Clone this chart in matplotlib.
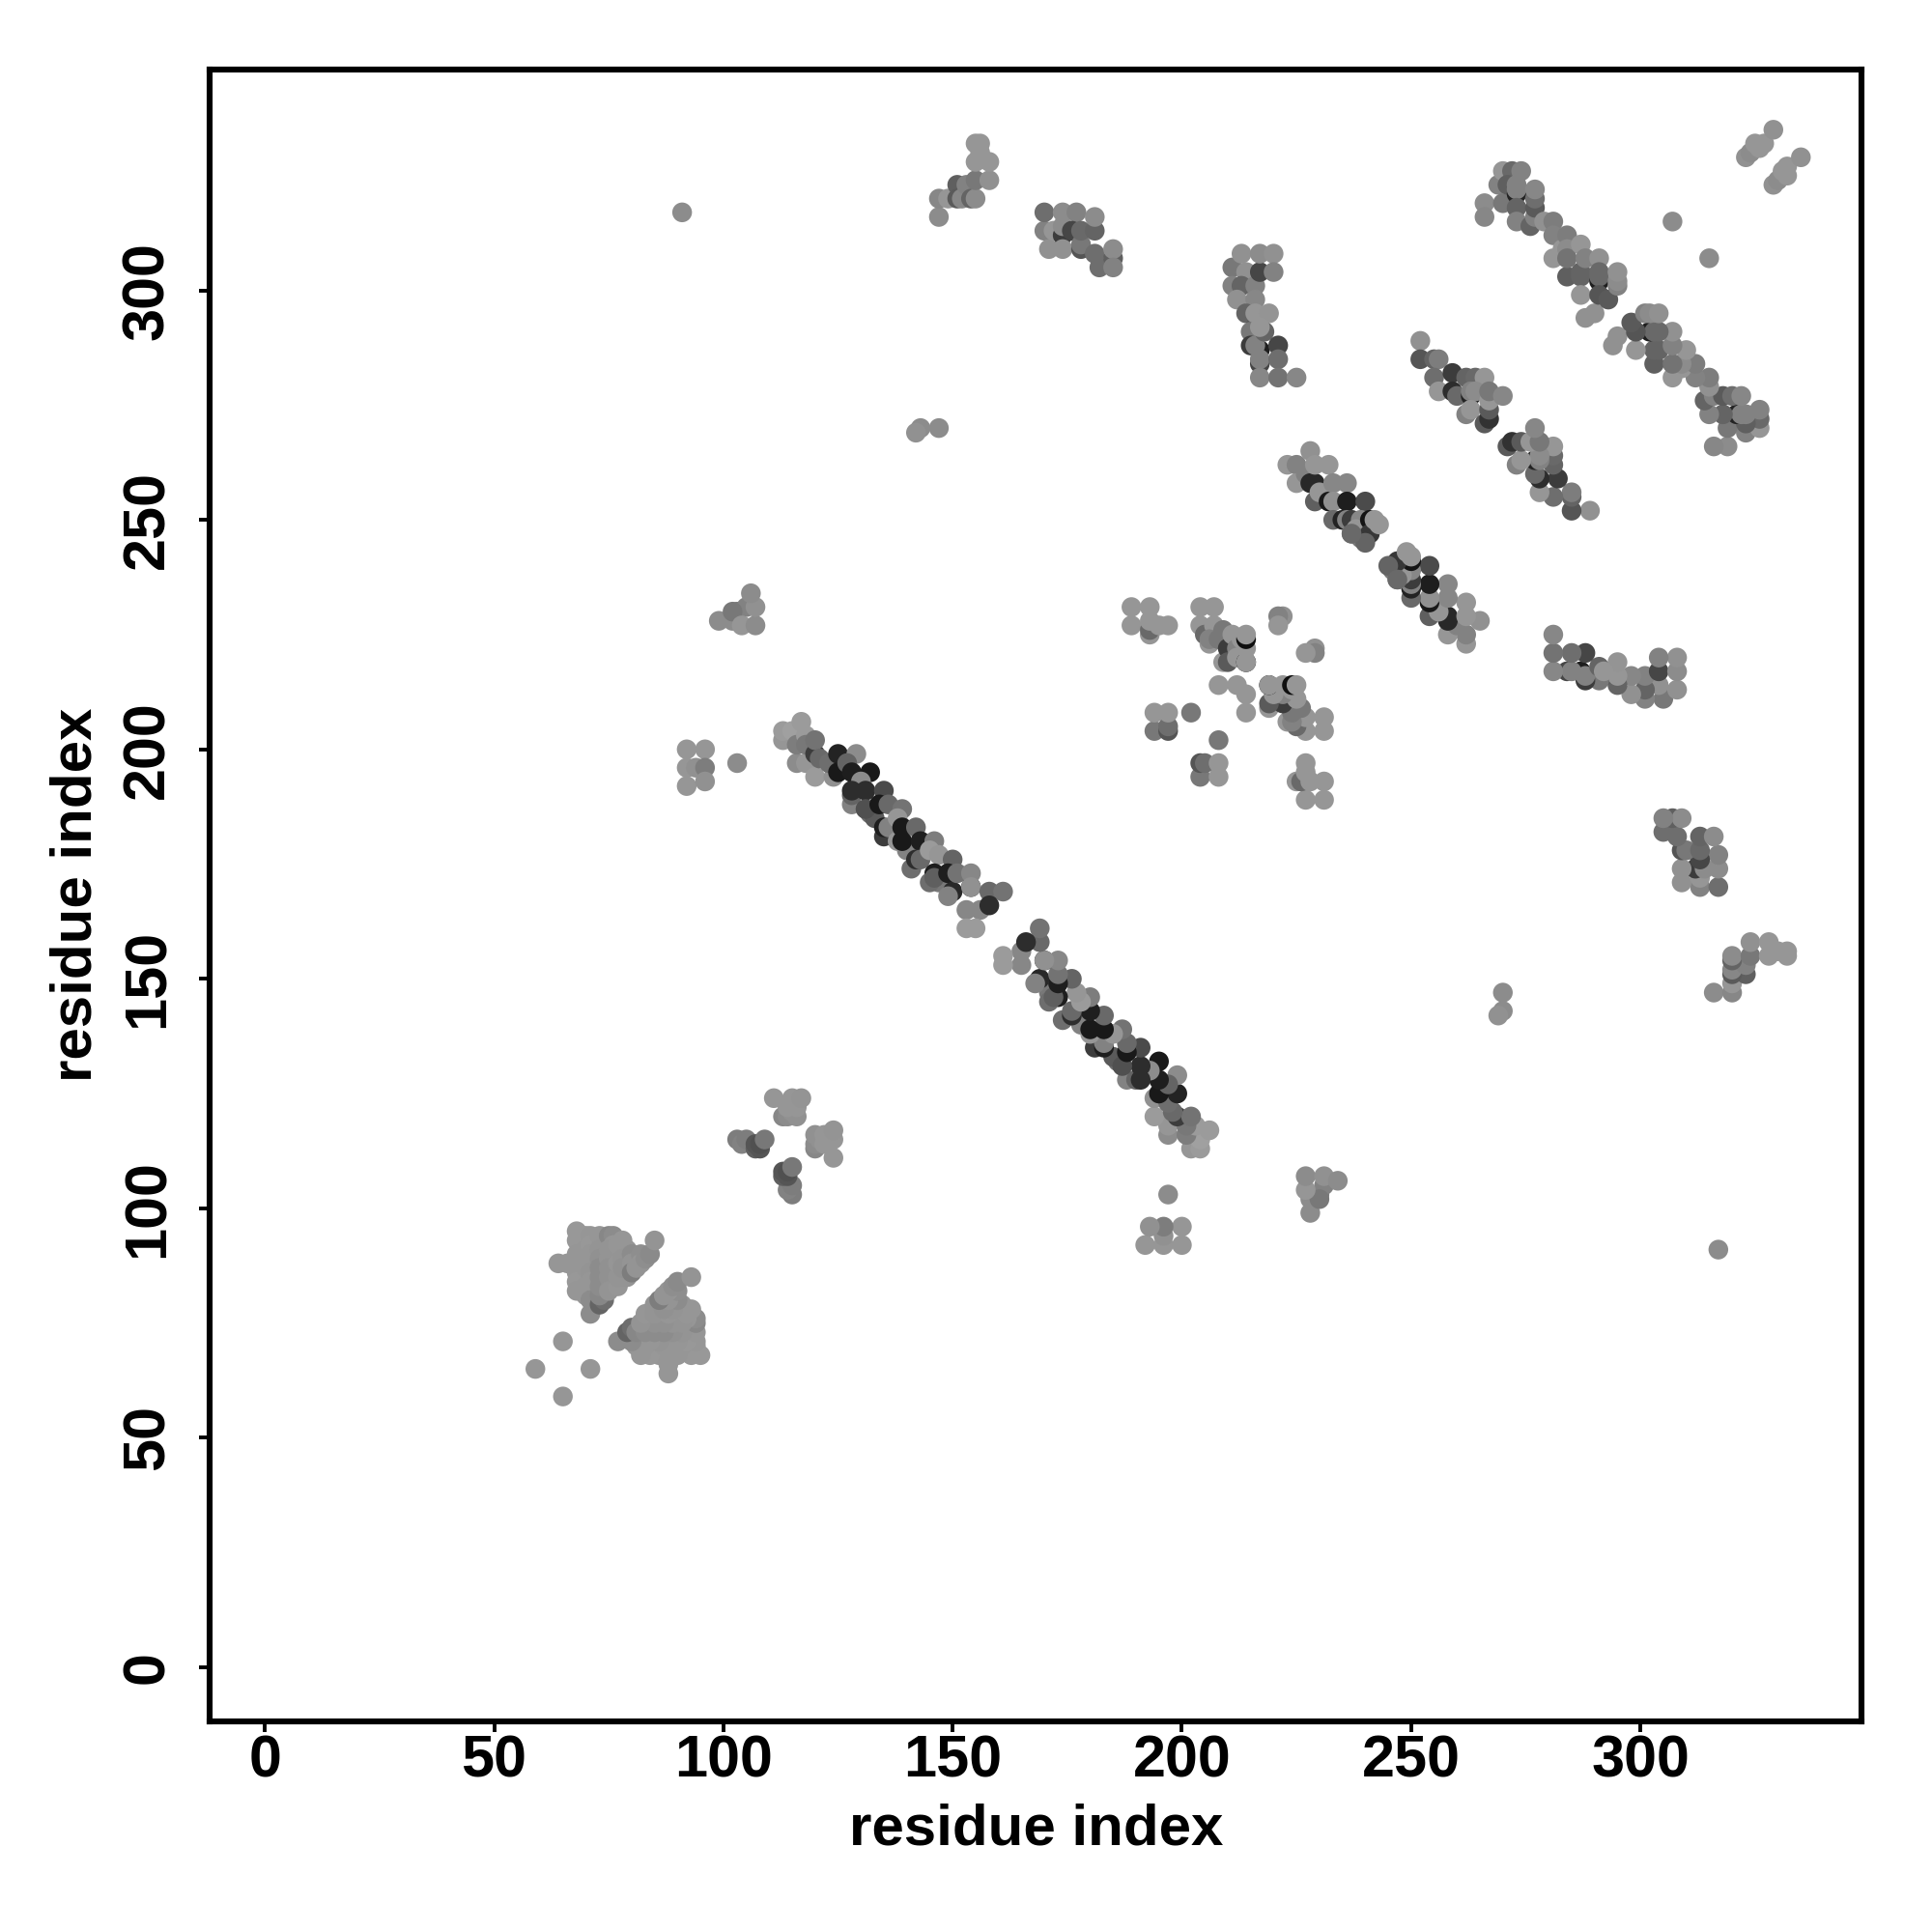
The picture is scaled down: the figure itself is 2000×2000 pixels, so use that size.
#!/usr/bin/env python3
"""Residue contact map, grey level = contact strength. Contacts are listed once as
(i, j, grey) and drawn on both sides of the diagonal, in list order."""
import matplotlib
matplotlib.use("Agg")
import matplotlib.pyplot as plt

TICKS = [0, 50, 100, 150, 200, 250, 300]
LABEL = "residue index"

near_65 = [(65, 71, 150), (59, 65, 150), (64, 88, 150), (66, 88, 150),
           (68, 95, 152), (68, 93, 152), (68, 90, 150), (68, 88, 150), (68, 86, 150), (68, 84, 152), (68, 82, 150),
           (70, 94, 152), (70, 91, 150), (70, 87, 150), (70, 83, 150), (70, 81, 150),
           (71, 94, 150), (71, 92, 152), (71, 90, 150), (71, 88, 150), (71, 86, 148), (71, 84, 150), (71, 82, 150),
           (71, 80, 140), (71, 77, 140), (72, 79, 140), (73, 79, 100), (74, 80, 110), (73, 81, 135),
           (73, 94, 150), (73, 91, 148), (73, 89, 145), (73, 87, 140), (73, 85, 140), (73, 83, 140),
           (75, 94, 135), (76, 94, 140), (76, 92, 150), (76, 90, 150), (76, 88, 145), (76, 86, 140), (76, 84, 148),
           (75, 91, 148), (75, 89, 148), (75, 87, 145), (75, 85, 145), (75, 82, 148), (77, 83, 150), (77, 85, 148),
           (77, 88, 150), (77, 92, 150), (79, 85, 148), (79, 88, 150), (79, 91, 150),
           (78, 93, 150), (78, 91, 150), (78, 89, 148), (78, 87, 145),
           (80, 90, 140), (80, 88, 148), (80, 86, 125), (82, 90, 142), (82, 88, 150), (81, 87, 148), (83, 89, 142),
           (84, 90, 138), (85, 93, 148)]
cross_115 = [(103, 115, 125), (104, 114, 130), (105, 115, 125), (107, 113, 95), (107, 114, 85), (108, 113, 85),
             (108, 114, 80), (109, 115, 120), (113, 120, 135), (114, 120, 140), (115, 121, 145), (116, 120, 145),
             (111, 124, 150), (114, 122, 150), (115, 124, 150), (116, 122, 150), (117, 124, 148)]
band_main = [(113, 202, 150), (113, 204, 155), (115, 204, 160), (117, 206, 155), (116, 197, 140), (118, 197, 150),
             (116, 201, 125), (118, 203, 155), (118, 201, 120), (120, 199, 60), (120, 202, 115), (120, 194, 155),
             (121, 198, 105), (124, 194, 145), (123, 197, 110), (128, 188, 130), (132, 186, 110), (133, 185, 90),
             (135, 181, 60), (140, 178, 130), (147, 171, 120), (141, 174, 110),
             (125, 199, 35), (125, 195, 25), (129, 199, 140), (127, 197, 100), (128, 195, 30), (132, 195, 25),
             (128, 190, 100), (130, 193, 140), (128, 191, 45), (131, 191, 45), (131, 187, 80), (135, 191, 75),
             (134, 188, 25), (136, 188, 105), (139, 187, 115), (135, 183, 30), (136, 183, 130), (138, 185, 150),
             (138, 180, 150), (139, 183, 25), (139, 180, 25), (142, 183, 105), (143, 180, 30), (146, 180, 125),
             (142, 176, 45), (143, 176, 105), (145, 178, 155), (147, 177, 150), (150, 176, 100),
             (146, 173, 30), (145, 171, 110), (146, 172, 95), (149, 173, 30), (150, 169, 40), (151, 173, 115),
             (149, 168, 130), (154, 170, 30), (154, 173, 135), (154, 170, 145), (158, 169, 105), (161, 169, 115),
             (153, 165, 135), (156, 165, 135), (158, 166, 45),
             (153, 161, 155), (155, 161, 155)]
far_92 = [(92, 192, 150), (92, 196, 150), (94, 196, 145), (92, 200, 150), (96, 200, 150), (96, 196, 125),
          (96, 193, 145), (103, 197, 140)]
near_230 = [(99, 228, 140), (102, 228, 140), (103, 230, 125), (105, 231, 130), (102, 230, 120),
            (104, 227, 150), (107, 227, 140), (107, 231, 145), (106, 234, 140)]
singles = [(91, 317, 140), (143, 270, 140), (142, 269, 145), (147, 270, 140), (307, 315, 140)]
near_320 = [(147, 316, 140), (147, 320, 135), (149, 320, 150), (151, 323, 95), (151, 320, 90), (152, 320, 135),
            (153, 323, 130), (154, 320, 100), (155, 320, 140), (155, 324, 120), (158, 324, 145),
            (155, 328, 150), (158, 328, 150), (156, 330, 150), (155, 332, 150), (156, 332, 150)]
far_310 = [(170, 313, 130), (171, 309, 145), (172, 313, 150), (170, 317, 110), (174, 312, 60), (174, 309, 145),
           (174, 314, 140), (174, 317, 140), (177, 317, 130), (176, 313, 70), (178, 309, 85), (178, 310, 120),
           (178, 313, 105), (181, 313, 100), (181, 316, 140), (181, 308, 110), (182, 305, 110), (185, 307, 95),
           (185, 309, 140), (185, 305, 130)]
patch_227 = [(189, 231, 150), (193, 231, 150), (189, 227, 150), (193, 225, 150), (193, 226, 105), (193, 228, 150),
             (195, 227, 150), (197, 227, 150), (194, 204, 120), (194, 208, 150), (197, 204, 85), (197, 205, 110),
             (197, 208, 150), (202, 208, 120), (204, 231, 150), (207, 231, 150), (204, 227, 150), (205, 225, 105),
             (206, 223, 150), (207, 227, 150), (206, 224, 130), (208, 224, 120), (209, 226, 120), (209, 219, 150),
             (210, 222, 60), (210, 219, 90), (211, 225, 150), (212, 222, 130), (212, 220, 150), (213, 224, 150),
             (214, 219, 5), (214, 222, 150), (214, 224, 15), (214, 225, 150), (208, 214, 150), (212, 214, 150),
             (219, 214, 150), (222, 229, 145), (221, 229, 130), (221, 227, 150)]
near_295 = [(211, 305, 120), (211, 301, 130), (213, 308, 145), (214, 304, 145), (213, 301, 100), (212, 298, 145),
            (216, 301, 130), (217, 304, 70), (217, 308, 140), (220, 308, 145), (220, 304, 130), (216, 298, 135),
            (214, 295, 100), (216, 292, 90), (216, 295, 150), (219, 295, 148), (215, 291, 120),
            (215, 288, 60), (217, 287, 30), (216, 288, 130), (218, 291, 100), (217, 292, 150), (221, 288, 70),
            (217, 284, 70), (217, 285, 130), (221, 285, 110), (217, 281, 135), (221, 281, 115), (225, 281, 135)]
band_250 = [(223, 262, 150), (225, 262, 130), (225, 258, 150), (227, 260, 130), (228, 265, 145),
            (228, 258, 40), (229, 258, 40), (229, 262, 150), (232, 262, 150), (229, 254, 95), (230, 256, 150),
            (232, 254, 25), (233, 258, 135), (233, 254, 145), (236, 258, 135), (236, 254, 30), (240, 254, 75),
            (233, 250, 105), (235, 250, 35), (237, 247, 105), (236, 250, 130), (237, 250, 60), (239, 250, 135),
            (238, 248, 150), (239, 246, 120), (241, 250, 20), (241, 247, 55), (243, 249, 150), (242, 250, 150),
            (245, 240, 100), (247, 237, 105)]
band_280 = [(252, 289, 145), (252, 285, 85), (255, 285, 100), (256, 285, 125), (255, 281, 110), (256, 278, 150),
            (259, 282, 60), (259, 278, 45), (260, 277, 105), (262, 281, 100), (264, 281, 105), (266, 281, 150),
            (263, 277, 35), (263, 278, 130), (264, 278, 140), (262, 273, 130), (263, 274, 150), (266, 271, 90),
            (267, 272, 50), (267, 274, 90), (267, 276, 150), (267, 278, 120), (270, 277, 135)]
band_310 = [(266, 319, 140), (266, 316, 135), (269, 323, 130), (270, 326, 150), (270, 319, 120), (272, 326, 105),
            (271, 323, 95), (273, 321, 35), (273, 322, 130), (273, 323, 130), (273, 318, 100), (273, 315, 130),
            (274, 326, 130), (276, 314, 100), (277, 316, 130), (277, 318, 90), (277, 320, 110), (277, 322, 135),
            (279, 315, 145), (281, 315, 125), (281, 312, 130), (281, 307, 150), (283, 309, 150), (284, 312, 125),
            (284, 309, 140), (284, 303, 95), (284, 307, 115), (287, 310, 150), (287, 303, 100), (287, 304, 100),
            (288, 307, 130), (287, 299, 150), (288, 294, 145), (290, 295, 145), (291, 307, 145),
            (291, 302, 30), (291, 303, 105), (291, 304, 105), (291, 299, 85), (293, 298, 90), (295, 301, 130),
            (295, 302, 140), (295, 304, 145)]
corner_329 = [(323, 329, 145), (324, 330, 140), (325, 332, 150), (326, 331, 150), (327, 332, 150), (329, 335, 145)]

groups = [near_65, cross_115, band_main, far_92, near_230, singles, near_320, far_310, patch_227,
          near_295, band_250, band_280, band_310, corner_329]

xs, ys, cs = [], [], []
for grp in groups:
    for i, j, g in grp:
        xs += [i, j]
        ys += [j, i]
        cs += [(g / 255,) * 3] * 2

fig = plt.figure(figsize=(10, 10), dpi=200)
ax = fig.add_axes([0.1085, 0.109, 0.8552, 0.8552])
ax.scatter(xs, ys, s=54, c=cs, linewidths=0, zorder=3)
ax.set_xlim(-12.05, 348.3)
ax.set_ylim(-11.8, 348.2)

font = dict(family=["Liberation Sans", "DejaVu Sans"], fontweight="bold")
ax.set_xticks(TICKS)
ax.set_yticks(TICKS)
ax.set_xticklabels(TICKS, fontsize=22, **font)
ax.set_yticklabels(TICKS, rotation=90, va="center", fontsize=22, **font)
ax.tick_params(length=4, width=1.4)
ax.tick_params(axis="x", pad=0.8)
ax.tick_params(axis="y", pad=8.5)
ax.set_xlabel(LABEL, va="center", fontsize=21.6, **font)
ax.set_ylabel(LABEL, va="center", fontsize=21.6, **font)
ax.xaxis.set_label_coords(0.5, -0.0657)
ax.yaxis.set_label_coords(-0.0805, 0.5)
for s in ax.spines.values():
    s.set_linewidth(2.2)

fig.savefig("out.png", dpi=200)
